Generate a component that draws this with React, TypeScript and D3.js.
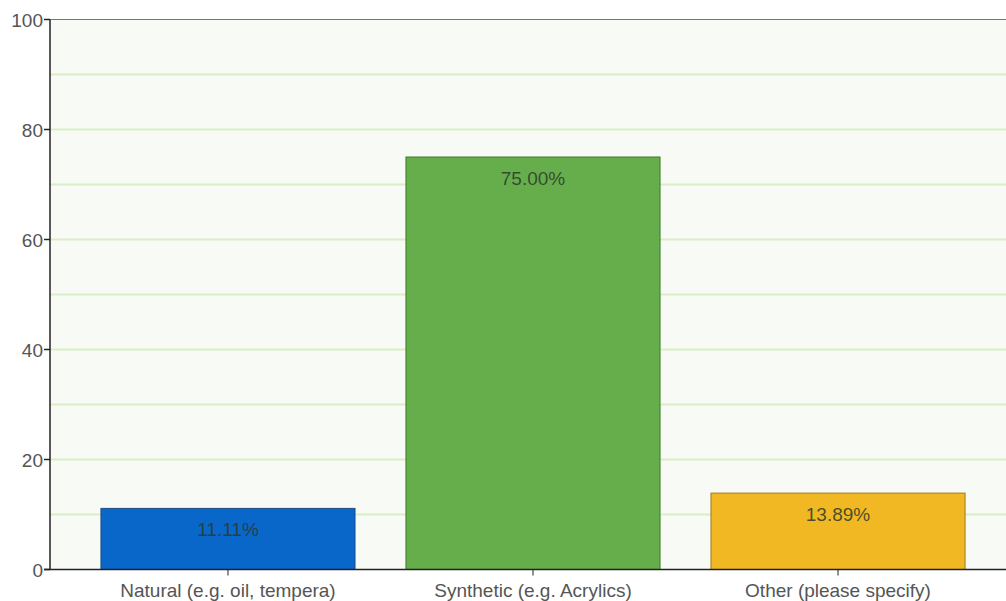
import React from "react";
import * as d3 from "d3";

const categories = ["Natural (e.g. oil, tempera)", "Synthetic (e.g. Acrylics)", "Other (please specify)"];
const values = [11.11, 75.0, 13.89];
const valueLabels = ["11.11%", "75.00%", "13.89%"];
const barColors = ["#0967c9", "#66ad4b", "#f1b823"];
const barStrokes = ["#1c4f86", "#3f7a2c", "#9c7a1c"];
const yTicks = [0, 20, 40, 60, 80, 100];
const gridValues = [10, 20, 30, 40, 50, 60, 70, 80, 90];

const W = 1006;
const H = 601;
const left = 50;
const top = 19.5;
const bottom = 569.5;

export default function App() {
  const x = d3.scaleBand<string>().domain(categories).range([left, 1016]).padding(0.167);
  const y = d3.scaleLinear().domain([0, 100]).range([bottom, top]);
  const font = "'Liberation Sans', Arial, Helvetica, sans-serif";
  return (
    <svg width={W} height={H} style={{ position: "absolute", left: 0, top: 0 }} fontFamily={font}>
      <rect x={0} y={0} width={W} height={H} fill="#ffffff" />
      <rect x={left} y={top} width={W - left} height={bottom - top} fill="#f8fbf5" />
      {gridValues.map((g) => (
        <line key={g} x1={left} x2={W} y1={y(g)} y2={y(g)} stroke="#d9eec6" strokeWidth={2} />
      ))}
      <line x1={left} x2={W} y1={top} y2={top} stroke="#777" strokeWidth={1} />
      {categories.map((c, i) => (
        <g key={c}>
          <rect
            x={x(c)!}
            y={y(values[i])}
            width={x.bandwidth()}
            height={y(0) - y(values[i])}
            fill={barColors[i]}
            stroke={barStrokes[i]}
            strokeWidth={1}
          />
          <text
            x={x(c)! + x.bandwidth() / 2}
            y={y(values[i]) + 28}
            textAnchor="middle"
            fontSize={19}
            fill="#2b3a2b"
            fillOpacity={0.85}
          >
            {valueLabels[i]}
          </text>
          <line
            x1={x(c)! + x.bandwidth() / 2}
            x2={x(c)! + x.bandwidth() / 2}
            y1={bottom}
            y2={bottom + 6}
            stroke="#222"
          />
          <text x={x(c)! + x.bandwidth() / 2} y={597} textAnchor="middle" fontSize={19} fill="#555">
            {c}
          </text>
        </g>
      ))}
      <line x1={left} x2={left} y1={top} y2={bottom} stroke="#222" strokeWidth={1.5} />
      <line x1={left - 6} x2={W} y1={bottom} y2={bottom} stroke="#222" strokeWidth={1.5} />
      {yTicks.map((t) => (
        <g key={t}>
          <line x1={left - 6} x2={left} y1={y(t)} y2={y(t)} stroke="#222" strokeWidth={1.5} />
          <text x={left - 7} y={y(t) + 7} textAnchor="end" fontSize={19} fill="#555">
            {t}
          </text>
        </g>
      ))}
    </svg>
  );
}
